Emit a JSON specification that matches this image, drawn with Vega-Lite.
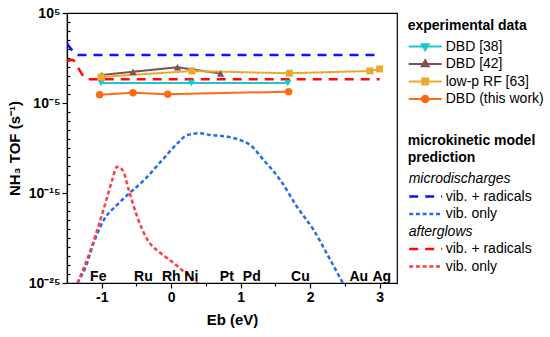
{
  "$schema": "https://vega.github.io/schema/vega-lite/v6.json",
  "width": 330,
  "height": 270,
  "autosize": {"type": "none"},
  "padding": {"left": 67, "top": 13, "right": 153, "bottom": 54},
  "config": {
    "font": "Liberation Sans",
    "view": {"stroke": "#000", "strokeWidth": 1.2},
    "axis": {
      "domainColor": "#000", "tickColor": "#000", "labelColor": "#000", "titleColor": "#000",
      "labelFont": "Liberation Sans", "titleFont": "Liberation Sans",
      "labelFontSize": 14, "labelFontWeight": "bold", "titleFontSize": 15, "titleFontWeight": "bold",
      "grid": false, "domainWidth": 1.2, "tickWidth": 1.2
    },
    "legend": {
      "labelFont": "Liberation Sans", "titleFont": "Liberation Sans",
      "labelFontSize": 14, "titleFontSize": 14, "titleFontWeight": "bold",
      "labelColor": "#000", "titleColor": "#000", "padding": 0, "rowPadding": 3.5, "titlePadding": 7,
      "labelLimit": 300, "titleLimit": 300, "clipHeight": 14
    }
  },
  "datasets": {
    "model": [
      {"model": "md_vr", "x": -1.5, "y": 44.7},
      {"model": "md_vr", "x": -1.46, "y": 15.8},
      {"model": "md_vr", "x": -1.42, "y": 6.3},
      {"model": "md_vr", "x": -1.38, "y": 2.8},
      {"model": "md_vr", "x": -1.34, "y": 2.19},
      {"model": "md_vr", "x": 3.0, "y": 2.15},
      {"model": "md_vo", "x": -1.35, "y": 1e-25},
      {"model": "md_vo", "x": -1.23, "y": 6.5e-24},
      {"model": "md_vo", "x": -1.11, "y": 3.9e-21},
      {"model": "md_vo", "x": -0.97, "y": 1e-18},
      {"model": "md_vo", "x": -0.78, "y": 4.7e-17},
      {"model": "md_vo", "x": -0.63, "y": 6.0e-16},
      {"model": "md_vo", "x": -0.39, "y": 2.75e-14},
      {"model": "md_vo", "x": -0.15, "y": 3.0e-12},
      {"model": "md_vo", "x": 0.09, "y": 3.3e-10},
      {"model": "md_vo", "x": 0.23, "y": 2.75e-9},
      {"model": "md_vo", "x": 0.4, "y": 4.3e-9},
      {"model": "md_vo", "x": 0.57, "y": 2.75e-9},
      {"model": "md_vo", "x": 0.81, "y": 1.8e-9},
      {"model": "md_vo", "x": 1.0, "y": 7.2e-10},
      {"model": "md_vo", "x": 1.14, "y": 2.1e-10},
      {"model": "md_vo", "x": 1.33, "y": 4.7e-12},
      {"model": "md_vo", "x": 1.57, "y": 2.75e-14},
      {"model": "md_vo", "x": 1.81, "y": 3.0e-17},
      {"model": "md_vo", "x": 2.05, "y": 7.8e-20},
      {"model": "md_vo", "x": 2.29, "y": 3.6e-23},
      {"model": "md_vo", "x": 2.47, "y": 1e-25},
      {"model": "ag_vr", "x": -1.5, "y": 0.38},
      {"model": "ag_vr", "x": -1.46, "y": 0.56},
      {"model": "ag_vr", "x": -1.42, "y": 0.63},
      {"model": "ag_vr", "x": -1.38, "y": 0.28},
      {"model": "ag_vr", "x": -1.34, "y": 0.079},
      {"model": "ag_vr", "x": -1.3, "y": 0.025},
      {"model": "ag_vr", "x": -1.26, "y": 0.0089},
      {"model": "ag_vr", "x": -1.22, "y": 0.005},
      {"model": "ag_vr", "x": -1.17, "y": 0.00447},
      {"model": "ag_vr", "x": 3.0, "y": 0.00447},
      {"model": "ag_vo", "x": -1.35, "y": 1e-25},
      {"model": "ag_vo", "x": -1.16, "y": 4.7e-22},
      {"model": "ag_vo", "x": -1.02, "y": 1e-18},
      {"model": "ag_vo", "x": -0.92, "y": 3.9e-16},
      {"model": "ag_vo", "x": -0.85, "y": 2.75e-14},
      {"model": "ag_vo", "x": -0.78, "y": 8.3e-13},
      {"model": "ag_vo", "x": -0.7, "y": 3.6e-13},
      {"model": "ag_vo", "x": -0.61, "y": 2.1e-15},
      {"model": "ag_vo", "x": -0.49, "y": 2.3e-18},
      {"model": "ag_vo", "x": -0.34, "y": 6.0e-21},
      {"model": "ag_vo", "x": -0.15, "y": 2.0e-22},
      {"model": "ag_vo", "x": 0.04, "y": 1.55e-23},
      {"model": "ag_vo", "x": 0.21, "y": 1.2e-24},
      {"model": "ag_vo", "x": 0.38, "y": 1e-25}
    ],
    "exp": [
      {"series": "DBD [38]", "x": -1.01, "y": 0.00166},
      {"series": "DBD [38]", "x": 0.29, "y": 0.00166},
      {"series": "DBD [38]", "x": 1.68, "y": 0.00166},
      {"series": "DBD [42]", "x": -1.0, "y": 0.0129},
      {"series": "DBD [42]", "x": -0.55, "y": 0.0302},
      {"series": "DBD [42]", "x": 0.09, "y": 0.0933},
      {"series": "DBD [42]", "x": 0.71, "y": 0.0191},
      {"series": "low-p RF [63]", "x": -1.01, "y": 0.00776},
      {"series": "low-p RF [63]", "x": 0.3, "y": 0.0363},
      {"series": "low-p RF [63]", "x": 1.7, "y": 0.02},
      {"series": "low-p RF [63]", "x": 2.86, "y": 0.0363},
      {"series": "low-p RF [63]", "x": 3.0, "y": 0.0603},
      {"series": "DBD (this work)", "x": -1.03, "y": 8.5e-5},
      {"series": "DBD (this work)", "x": -0.55, "y": 1.38e-4},
      {"series": "DBD (this work)", "x": -0.05, "y": 9.3e-5},
      {"series": "DBD (this work)", "x": 1.69, "y": 1.82e-4}
    ],
    "metals": [
      {"metal": "Fe", "x": -1.05},
      {"metal": "Ru", "x": -0.4},
      {"metal": "Rh", "x": 0.0},
      {"metal": "Ni", "x": 0.29},
      {"metal": "Pt", "x": 0.8},
      {"metal": "Pd", "x": 1.16},
      {"metal": "Cu", "x": 1.86},
      {"metal": "Au", "x": 2.7},
      {"metal": "Ag", "x": 3.03}
    ]
  },
  "layer": [
    {
      "data": {"name": "model"},
      "mark": {"type": "line", "strokeWidth": 2.5, "interpolate": "monotone", "clip": true},
      "encoding": {
        "x": {
          "field": "x", "type": "quantitative",
          "scale": {"domain": [-1.5, 3.25], "nice": false, "zero": false},
          "title": "Eb (eV)",
          "axis": {
            "values": [-1, -0.5, 0, 0.5, 1, 1.5, 2, 2.5, 3],
            "labelExpr": "datum.value % 1 == 0 ? toString(datum.value) : ''",
            "tickSize": {"condition": {"test": "datum.value % 1 == 0", "value": 5}, "value": 3},
            "labelPadding": 2, "titlePadding": 8
          }
        },
        "y": {
          "field": "y", "type": "quantitative",
          "scale": {"type": "log", "domain": [1e-25, 100000], "nice": false},
          "title": "NH₃ TOF (s⁻¹)",
          "axis": {
            "values": [100000, 10000, 1000, 100, 10, 1, 0.1, 0.01, 0.001, 1e-4, 1e-5, 1e-6, 1e-7, 1e-8, 1e-9, 1e-10, 1e-11, 1e-12, 1e-13, 1e-14, 1e-15, 1e-16, 1e-17, 1e-18, 1e-19, 1e-20, 1e-21, 1e-22, 1e-23, 1e-24, 1e-25],
            "labelExpr": "round(log(datum.value)/LN10) == 5 ? '10⁵' : round(log(datum.value)/LN10) == -5 ? '10⁻⁵' : round(log(datum.value)/LN10) == -15 ? '10⁻¹⁵' : round(log(datum.value)/LN10) == -25 ? '10⁻²⁵' : ''",
            "tickSize": {"condition": {"test": "abs(round(log(datum.value)/LN10)) % 10 == 5", "value": 5}, "value": -3},
            "labelPadding": 2,
            "titleX": -53, "titleY": 135, "titleAngle": 270, "titleAlign": "center", "titleBaseline": "middle"
          }
        },
        "color": {
          "field": "model", "type": "nominal",
          "scale": {"domain": ["h1", "md_vr", "md_vo", "h2", "ag_vr", "ag_vo"], "range": ["transparent", "#1010ff", "#1e6cf0", "transparent", "#ff0a0a", "#ff3b3b"]},
          "legend": {
            "title": ["microkinetic model", "prediction"], "orient": "none", "legendX": 340.7, "legendY": 120.5,
            "symbolType": "stroke", "symbolSize": 1089, "symbolStrokeWidth": 2.5, "titleLineHeight": 17.5,
            "labelOffset": {"expr": "datum.value == 'h1' || datum.value == 'h2' ? -35 : 2"},
            "labelFontStyle": {"expr": "datum.value == 'h1' || datum.value == 'h2' ? 'italic' : 'normal'"},
            "labelExpr": "datum.value == 'h1' ? 'microdischarges' : datum.value == 'h2' ? 'afterglows' : (datum.value == 'md_vr' || datum.value == 'ag_vr') ? 'vib. + radicals' : 'vib. only'"
          }
        },
        "strokeDash": {
          "field": "model", "type": "nominal",
          "scale": {"domain": ["h1", "md_vr", "md_vo", "h2", "ag_vr", "ag_vo"], "range": [[1, 0], [9, 7], [4, 2.7], [1, 0], [9, 7], [4, 2.7]]},
          "legend": {
            "title": ["microkinetic model", "prediction"], "orient": "none", "legendX": 340.7, "legendY": 120.5,
            "symbolType": "stroke", "symbolSize": 1089, "symbolStrokeWidth": 2.5, "titleLineHeight": 17.5,
            "labelOffset": {"expr": "datum.value == 'h1' || datum.value == 'h2' ? -35 : 2"},
            "labelFontStyle": {"expr": "datum.value == 'h1' || datum.value == 'h2' ? 'italic' : 'normal'"},
            "labelExpr": "datum.value == 'h1' ? 'microdischarges' : datum.value == 'h2' ? 'afterglows' : (datum.value == 'md_vr' || datum.value == 'ag_vr') ? 'vib. + radicals' : 'vib. only'"
          }
        }
      }
    },
    {
      "data": {"name": "exp"},
      "mark": {"type": "point", "filled": true, "opacity": 0, "strokeWidth": 2},
      "encoding": {
        "x": {"field": "x", "type": "quantitative"},
        "y": {"field": "y", "type": "quantitative"},
        "fill": {
          "field": "series", "type": "nominal",
          "scale": {"domain": ["DBD [38]", "DBD [42]", "low-p RF [63]", "DBD (this work)"], "range": ["#1fc4cc", "#7b5252", "#ebaa2e", "#ff6a14"]},
          "legend": {"title": "experimental data", "orient": "none", "legendX": 340.7, "legendY": 5.5, "symbolSize": 1089, "symbolStrokeWidth": 2, "labelOffset": 3, "symbolOpacity": 1}
        },
        "stroke": {
          "field": "series", "type": "nominal",
          "scale": {"domain": ["DBD [38]", "DBD [42]", "low-p RF [63]", "DBD (this work)"], "range": ["#1fc4cc", "#7b5252", "#ebaa2e", "#ff6a14"]},
          "legend": {"title": "experimental data", "orient": "none", "legendX": 340.7, "legendY": 5.5, "symbolSize": 1089, "symbolStrokeWidth": 2, "labelOffset": 3, "symbolOpacity": 1}
        },
        "shape": {
          "field": "series", "type": "nominal",
          "scale": {"domain": ["DBD [38]", "DBD [42]", "low-p RF [63]", "DBD (this work)"], "range": ["M-1,0H1M-0.21,-0.13L0.21,-0.13L0,0.23Z", "M-1,0H1M-0.21,0.13L0.21,0.13L0,-0.23Z", "M-1,0H1M-0.18,-0.18H0.18V0.18H-0.18Z", "M-1,0H1M-0.2,0A0.2,0.2,0,1,1,0.2,0A0.2,0.2,0,1,1,-0.2,0Z"]},
          "legend": {"title": "experimental data", "orient": "none", "legendX": 340.7, "legendY": 5.5, "symbolSize": 1089, "symbolStrokeWidth": 2, "labelOffset": 3, "symbolOpacity": 1}
        }
      }
    },
    {
      "data": {"name": "exp"},
      "mark": {"type": "line", "strokeWidth": 2},
      "encoding": {
        "x": {"field": "x", "type": "quantitative"},
        "y": {"field": "y", "type": "quantitative"},
        "stroke": {
          "field": "series", "type": "nominal",
          "legend": {"title": "experimental data", "orient": "none", "legendX": 340.7, "legendY": 5.5, "symbolSize": 1089, "symbolStrokeWidth": 2, "labelOffset": 3, "symbolOpacity": 1}
        }
      }
    },
    {
      "data": {"name": "exp"},
      "transform": [{"filter": "datum.series == 'DBD [38]'"}],
      "mark": {"type": "point", "filled": true, "size": 55, "opacity": 1, "shape": "triangle-down", "color": "#1fc4cc"},
      "encoding": {
        "x": {"field": "x", "type": "quantitative"},
        "y": {"field": "y", "type": "quantitative"}
      }
    },
    {
      "data": {"name": "exp"},
      "transform": [{"filter": "datum.series == 'DBD [42]'"}],
      "mark": {"type": "point", "filled": true, "size": 55, "opacity": 1, "shape": "triangle-up", "color": "#7b5252"},
      "encoding": {
        "x": {"field": "x", "type": "quantitative"},
        "y": {"field": "y", "type": "quantitative"}
      }
    },
    {
      "data": {"name": "exp"},
      "transform": [{"filter": "datum.series == 'low-p RF [63]'"}],
      "mark": {"type": "point", "filled": true, "size": 50, "opacity": 1, "shape": "square", "color": "#ebaa2e"},
      "encoding": {
        "x": {"field": "x", "type": "quantitative"},
        "y": {"field": "y", "type": "quantitative"}
      }
    },
    {
      "data": {"name": "exp"},
      "transform": [{"filter": "datum.series == 'DBD (this work)'"}],
      "mark": {"type": "point", "filled": true, "size": 55, "opacity": 1, "shape": "circle", "color": "#ff6a14"},
      "encoding": {
        "x": {"field": "x", "type": "quantitative"},
        "y": {"field": "y", "type": "quantitative"}
      }
    },
    {
      "data": {"name": "metals"},
      "mark": {"type": "text", "fontSize": 14, "fontWeight": "bold", "baseline": "alphabetic", "dy": -2, "color": "#000"},
      "encoding": {
        "x": {"field": "x", "type": "quantitative"},
        "y": {"datum": 1e-25, "type": "quantitative"},
        "text": {"field": "metal", "type": "nominal"}
      }
    }
  ]
}
